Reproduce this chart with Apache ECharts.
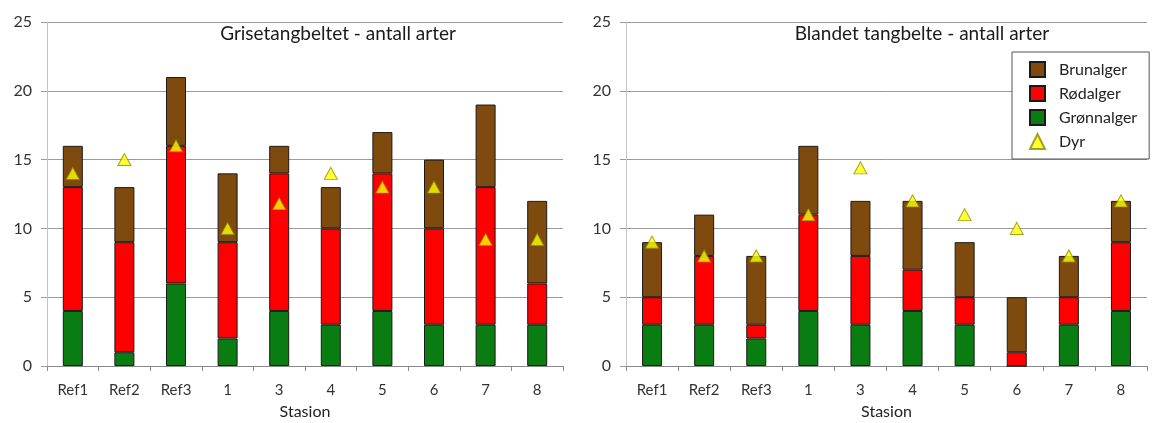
<!DOCTYPE html>
<html>
<head>
<meta charset="utf-8">
<script src="https://cdn.jsdelivr.net/npm/echarts@6/dist/echarts.min.js"></script>
<style>
  html, body { margin: 0; padding: 0; background: #fff; }
  #chart { width: 1152px; height: 423px; }
</style>
</head>
<body>
<div id="chart"></div>
<script>
// Stations along the x axis (same for both panels)
const stations = ['Ref1', 'Ref2', 'Ref3', '1', '3', '4', '5', '6', '7', '8'];
const yTicks = [0, 5, 10, 15, 20, 25];

// Grisetangbeltet: number of species per group
const gronnGris = [4, 1, 6, 2, 4, 3, 4, 3, 3, 3];
const rodGris   = [9, 8, 10, 7, 10, 7, 10, 7, 10, 3];
const brunGris  = [3, 4, 5, 5, 2, 3, 3, 5, 6, 6];
const dyrGris   = [14, 15, 16, 10, 11.8, 14, 13, 13, 9.2, 9.2];

// Blandet tangbelte: number of species per group
const gronnBland = [3, 3, 2, 4, 3, 4, 3, 0, 3, 4];
const rodBland   = [2, 5, 1, 7, 5, 3, 2, 1, 2, 5];
const brunBland  = [4, 3, 5, 5, 4, 5, 4, 4, 3, 3];
const dyrBland   = [9, 8, 8, 11, 14.4, 12, 11, 10, 8, 12];

const FONT = 'Lato, "Open Sans", sans-serif';
const COL_BRUN = '#7f4a0e';
const COL_ROD = '#ff0000';
const COL_GRONN = '#0a7d12';
const COL_DYR = '#ffff00';

const chart = echarts.init(document.getElementById('chart'), null, { renderer: 'canvas' });

function xAxis(gridIndex) {
  return {
    type: 'category', gridIndex, data: stations,
    name: 'Stasion', nameLocation: 'middle', nameGap: 38,
    nameTextStyle: { fontFamily: FONT, fontSize: 16, color: '#222' },
    axisLine: { show: true, lineStyle: { color: '#8a8a8a', width: 1 } },
    axisTick: { show: true, length: 5, lineStyle: { color: '#8a8a8a' } },
    axisLabel: { fontFamily: FONT, fontSize: 15, color: '#333', margin: 17 }
  };
}
function yAxis(gridIndex) {
  return {
    type: 'value', gridIndex, min: yTicks[0], max: yTicks[yTicks.length - 1], interval: 5,
    axisLine: { show: true, lineStyle: { color: '#c4c4c4', width: 1 } },
    axisTick: { show: true, length: 6, lineStyle: { color: '#9a9a9a' } },
    axisLabel: { fontFamily: FONT, fontSize: 16, color: '#333', margin: 15 },
    splitLine: { show: true, lineStyle: { color: '#9a9a9a', width: 1 } }
  };
}
function barSeries(name, data, color, idx) {
  return {
    name, type: 'bar', stack: 'arter' + idx, xAxisIndex: idx, yAxisIndex: idx,
    data, barWidth: 20,
    itemStyle: { color, borderColor: '#1a1a1a', borderWidth: 1 },
    emphasis: { disabled: true }
  };
}
function dyrSeries(data, idx) {
  return {
    name: 'Dyr', type: 'scatter', xAxisIndex: idx, yAxisIndex: idx, data,
    symbol: 'triangle', symbolSize: [13, 12], z: 5,
    itemStyle: { color: COL_DYR, borderColor: '#8c8a00', borderWidth: 1 },
    emphasis: { disabled: true }
  };
}

chart.setOption({
  animation: false,
  backgroundColor: '#ffffff',
  textStyle: { fontFamily: FONT },
  title: [
    { text: 'Grisetangbeltet - antall arter', left: 333, top: 19, textAlign: 'center',
      textStyle: { fontFamily: FONT, fontSize: 19, fontWeight: 'normal', color: '#1a1a1a' } },
    { text: 'Blandet tangbelte - antall arter', left: 917, top: 19, textAlign: 'center',
      textStyle: { fontFamily: FONT, fontSize: 19, fontWeight: 'normal', color: '#1a1a1a' } }
  ],
  grid: [
    { left: 47, right: 589, top: 22, bottom: 57, outerBoundsMode: 'none' },
    { left: 626, right: 5, top: 22, bottom: 57, outerBoundsMode: 'none' }
  ],
  legend: {
    orient: 'vertical', left: 1012, top: 52,
    backgroundColor: '#ffffff', borderColor: '#555', borderWidth: 1,
    padding: [9, 12, 9, 17], itemWidth: 15, itemHeight: 15, itemGap: 7,
    textStyle: { fontFamily: FONT, fontSize: 16, color: '#222', padding: [0, 0, 0, 9] },
    data: [
      { name: 'Brunalger', icon: 'rect' },
      { name: 'Rødalger', icon: 'rect' },
      { name: 'Grønnalger', icon: 'rect' },
      { name: 'Dyr', icon: 'triangle' }
    ]
  },
  xAxis: [xAxis(0), xAxis(1)],
  yAxis: [yAxis(0), yAxis(1)],
  series: [
    barSeries('Grønnalger', gronnGris, COL_GRONN, 0),
    barSeries('Rødalger', rodGris, COL_ROD, 0),
    barSeries('Brunalger', brunGris, COL_BRUN, 0),
    dyrSeries(dyrGris, 0),
    barSeries('Grønnalger', gronnBland, COL_GRONN, 1),
    barSeries('Rødalger', rodBland, COL_ROD, 1),
    barSeries('Brunalger', brunBland, COL_BRUN, 1),
    dyrSeries(dyrBland, 1)
  ]
});
</script>
</body>
</html>
